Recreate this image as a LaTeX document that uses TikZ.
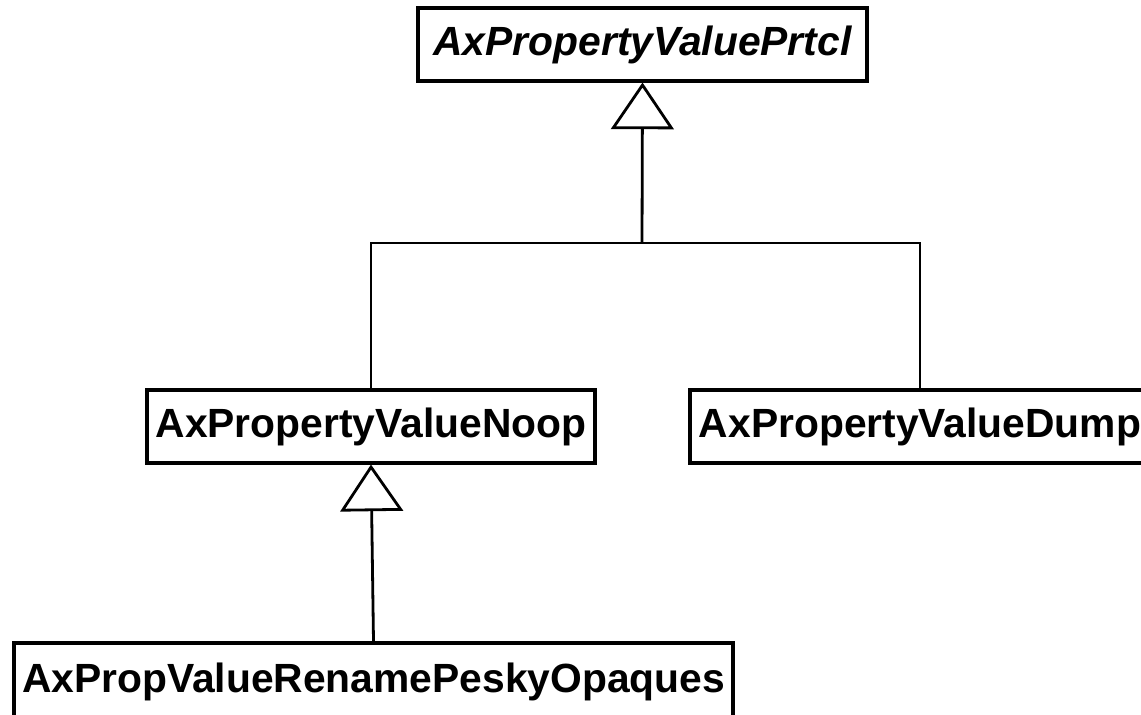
\documentclass[tikz,border=0pt]{standalone}
\usepackage{fontspec}
\setmainfont{Liberation Sans}
\usetikzlibrary{arrows.meta}
\begin{document}
\begin{tikzpicture}[x=0.75pt,y=-0.75pt,
  cls/.style={draw, line width=2.3pt, fill=white, inner sep=0pt, minimum height=73*0.75pt,
    font=\fontsize{30.6pt}{36pt}\selectfont\bfseries},
  conn/.style={line width=2.1pt},
  inh/.style={line width=2.1pt, -{Triangle[open, length=35pt, width=47pt, line width=2.1pt]}}]
\useasboundingbox (0,0) rectangle (1141,714);
\node[cls, minimum width=449*0.75pt] (top) at (642.5,44.5) {\itshape AxPropertyValuePrtcl};
\node[cls, minimum width=448*0.75pt] (noop) at (371,426.5) {AxPropertyValueNoop};
\node[cls, minimum width=460*0.75pt] (dump) at (920,426.5) {AxPropertyValueDump};
\node[cls, minimum width=719*0.75pt, minimum height=78*0.75pt] (ren) at (373.5,682) {AxPropValueRenamePeskyOpaques};
\coordinate (jn) at (642,243);
\draw[conn] (noop.north) |- (jn) -| (dump.north);
\draw[inh] (jn) -- (top.south);
\draw[inh] (ren.north) -- (noop.south);
\end{tikzpicture}
\end{document}
